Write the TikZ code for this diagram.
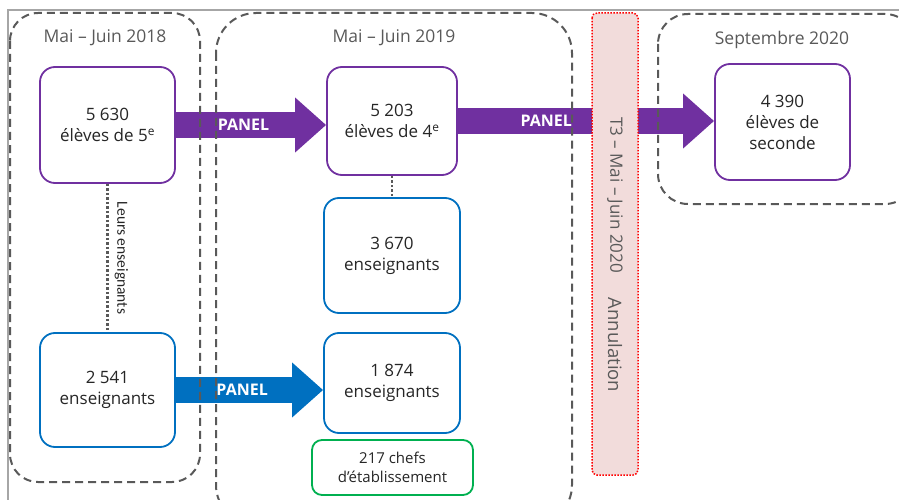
\documentclass[tikz,border=0pt]{standalone}
\usepackage{fontspec}
\setmainfont{Open Sans}
\newfontfamily\calib{Carlito}
\usepackage{xcolor}
\usepackage{tikz}
\usetikzlibrary{arrows.meta,positioning,calc,backgrounds}

\definecolor{violet}{HTML}{7030A0}
\definecolor{bleu}{HTML}{0070C0}
\definecolor{vert}{HTML}{00B050}
\definecolor{gris}{HTML}{595959}
\definecolor{rose}{HTML}{F2DCDB}

\begin{document}
\begin{tikzpicture}[x=1pt, y=-1pt,
        periode/.style={draw=gris, dash pattern=on 8pt off 5pt, line width=2pt, rounded corners=#1},
        titre/.style={text=gris, font=\fontsize{17.5}{20}\selectfont},
        boite/.style={draw=#1, line width=1.8pt, fill=white, rounded corners=15pt, align=center,
            font=\fontsize{17}{21}\selectfont, text=black!85},
        panel/.style={line width=26pt, draw=#1, -{Triangle[length=31pt, width=53pt]}},
        lbl/.style={text=white, font=\bfseries\fontsize{16}{18}\selectfont},
        lien/.style={draw=gris, line width=2.5pt, dotted}]
    \useasboundingbox (0,0) rectangle (899,500);
    \clip (0,0) rectangle (899,500);
    \draw[black!35, line width=1.2pt] (8,500) -- (8,10) -- (899,10);

    % periodes
    \draw[periode=28pt] (10,13) rectangle (200,482);
    \node[titre] at (105,38) {Mai – Juin 2018};
    \draw[periode=40pt] (216,13) rectangle (572,525);
    \node[titre] at (394,38) {Mai – Juin 2019};
    \draw[periode=30pt] (658,14) rectangle (915,204);
    \node[titre] at (782,40) {Septembre 2020};

    % annulation
    \draw[red, fill=rose, line width=1.5pt, dash pattern=on 1.5pt off 1.5pt, rounded corners=5pt]
        (592,13) rectangle (638,475);
    \node[rotate=-90, text=gris, font=\fontsize{17}{20}\selectfont] at (615,195) {T3 – Mai – Juin 2020};
    \node[rotate=-90, text=gris, font=\fontsize{18.5}{20}\selectfont] at (615,345) {Annulation};

    % eleves
    \node[boite=violet, minimum width=135pt, minimum height=116pt] (e5) at (107.5,125)
        {5 630\\élèves de 5\textsuperscript{e}};
    \node[boite=violet, minimum width=130pt, minimum height=108pt] (e4) at (392,121)
        {5 203\\élèves de 4\textsuperscript{e}};
    \node[boite=violet, minimum width=135pt, minimum height=116pt] (sec) at (782.5,122)
        {4 390\\élèves de\\seconde};

    % enseignants
    \node[boite=bleu, minimum width=135pt, minimum height=114pt] (ens18) at (107.5,390)
        {2 541\\enseignants};
    \node[boite=bleu, minimum width=136pt, minimum height=115pt] (ens19) at (392,255.5)
        {3 670\\enseignants};
    \node[boite=bleu, minimum width=136pt, minimum height=100pt] (pan19) at (392,383)
        {1 874\\enseignants};
    \node[boite=vert, minimum width=161pt, minimum height=55pt, rounded corners=10pt,
        font=\fontsize{15}{19}\selectfont] (chefs) at (392.5,467.5)
        {217 chefs\\d’établissement};

    % liens
    \draw[lien] (e5.south) -- (ens18.north)
        node[midway, rotate=-90, anchor=south, inner sep=6pt, text=black!85,
            font=\calib\fontsize{15.5}{17}\selectfont] (leurs) {Leurs enseignants};
    \draw[lien] (e4.south) -- (ens19.north);

    % PANEL
    \begin{scope}[on background layer]
        \draw[panel=violet] (e5.east) -- (e5.east -| e4.west)
            node[lbl, pos=0.45] (p1) {PANEL};
        \draw[panel=violet] (e4.east) -- (e4.east -| sec.west)
            node[lbl, pos=0.345] (p2) {PANEL};
        \draw[panel=bleu] (ens18.east) -- (ens18.east -| pan19.west)
            node[lbl, pos=0.45] (p3) {PANEL};
    \end{scope}
\end{tikzpicture}
\end{document}
